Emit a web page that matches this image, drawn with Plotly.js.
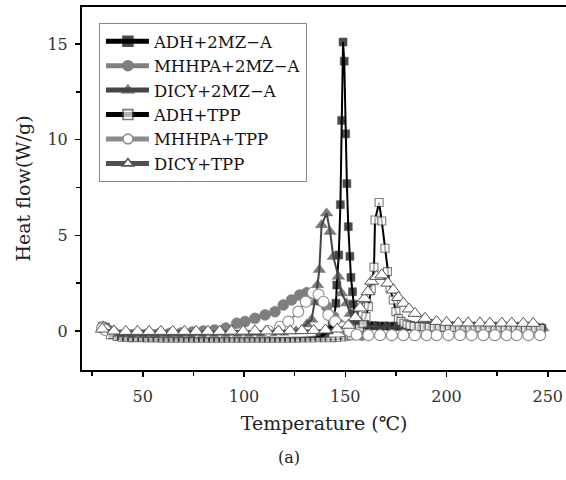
<!DOCTYPE html>
<html>
<head>
<meta charset="utf-8">
<script src="https://cdn.plot.ly/plotly-3.0.1.min.js"></script>
<style>
html,body{margin:0;padding:0;background:#fff;}
#chart{width:566px;height:480px;}
</style>
</head>
<body>
<div id="chart"></div>
<script>
// ---- data (Temperature in °C, Heat flow in W/g) ----
var seriesNames = ["ADH+2MZ−A", "MHHPA+2MZ−A", "DICY+2MZ−A", "ADH+TPP", "MHHPA+TPP", "DICY+TPP"];

var adh2mzT = [30, 31.5, 33, 35, 37.5, 40, 42.5, 45, 47.5, 50, 52.5, 55, 57.5, 60, 62.5, 65, 67.5, 70, 72.5, 75, 77.5, 80, 82.5, 85, 87.5, 90, 92.5, 95, 97.5, 100, 102.5, 105, 107.5, 110, 112.5, 115, 117.5, 120, 122.5, 125, 127.5, 130, 132.5, 135, 137.5, 140, 142, 143.5, 144.5, 145.4, 145.8, 146.8, 147.6, 148.2, 148.9, 149.5, 150.2, 150.8, 151.5, 152.3, 152.8, 153.6, 154, 154.6, 155.5, 157, 159.5, 162, 164.5, 167, 169.5, 172, 174.5, 177, 179.5, 182, 184.5, 187, 189.5, 192, 194.5, 197, 199.5, 202, 204.5, 207, 209.5, 212, 214.5, 217, 219.5, 222, 224.5, 227, 229.5, 232, 234.5, 237, 239.5, 242, 244.5, 247];
var adh2mzH = [0.25, 0.2, 0.05, -0.2, -0.35, -0.4, -0.4, -0.42, -0.42, -0.43, -0.43, -0.43, -0.43, -0.44, -0.44, -0.44, -0.44, -0.44, -0.44, -0.45, -0.45, -0.45, -0.45, -0.45, -0.45, -0.45, -0.45, -0.45, -0.45, -0.45, -0.45, -0.45, -0.45, -0.45, -0.45, -0.45, -0.44, -0.44, -0.44, -0.43, -0.43, -0.42, -0.4, -0.38, -0.3, -0.15, 0.05, 0.3, 0.7, 1.45, 2.4, 3.97, 6.6, 11.0, 15.1, 14.1, 10.3, 7.7, 5.45, 3.9, 2.8, 2.05, 1.4, 0.9, 0.55, 0.35, 0.3, 0.28, 0.27, 0.26, 0.26, 0.25, 0.25, 0.25, 0.24, 0.24, 0.24, 0.23, 0.23, 0.23, 0.22, 0.22, 0.22, 0.22, 0.21, 0.21, 0.21, 0.2, 0.2, 0.2, 0.2, 0.2, 0.19, 0.19, 0.19, 0.19, 0.18, 0.18, 0.18, 0.17, 0.17, 0.15];

var mhhpa2mzT = [30, 32, 36, 41.5, 47, 52.5, 58, 63.5, 69, 74.5, 80, 85.5, 91, 96.4, 100.5, 105.4, 110.4, 115.3, 119.4, 123.5, 127.5, 131, 134.5, 137.5, 140.8, 144.1, 147, 150.5, 154, 158];
var mhhpa2mzH = [0.2, 0.1, -0.1, -0.15, -0.15, -0.15, -0.15, -0.12, -0.1, -0.05, 0.0, 0.05, 0.15, 0.4, 0.49, 0.66, 0.84, 1.01, 1.36, 1.62, 1.88, 2.0, 1.95, 1.6, 1.27, 0.75, 0.35, 0.05, -0.15, -0.22];

var dicy2mzT = [30.5, 32.9, 38.7, 44.5, 50.3, 56.1, 61.9, 67.7, 73.5, 79.3, 85.1, 90.9, 96.7, 102.5, 108.3, 114.1, 119.9, 125.7, 131, 133.4, 135, 136.3, 137.2, 138.3, 140.8, 142.5, 144.1, 146.6, 148.2, 150.7, 152.5, 154.5, 157, 159.6, 164.9, 170.2, 175.5, 180.8, 186.1, 191.4, 197.4, 202.8, 208.3, 213.6, 219, 224.3, 229.7, 235, 240.3, 244.5, 247.6];
var dicy2mzH = [0.25, 0.1, -0.2, -0.2, -0.2, -0.2, -0.2, -0.2, -0.2, -0.2, -0.2, -0.2, -0.19, -0.19, -0.18, -0.16, -0.12, 0.0, 0.35, 0.6, 1.5, 2.4, 3.2, 5.54, 6.15, 5.19, 3.88, 2.84, 1.97, 1.45, 0.9, 0.55, 0.4, 0.28, 0.24, 0.23, 0.23, 0.23, 0.23, 0.23, 0.23, 0.22, 0.22, 0.22, 0.22, 0.22, 0.21, 0.21, 0.21, 0.2, 0.15];

var adhTppT = [30.5, 32, 34, 36.5, 39, 41.5, 44, 46.5, 49, 51.5, 54, 56.5, 59, 61.5, 64, 66.5, 69, 71.5, 74, 76.5, 79, 81.5, 84, 86.5, 89, 91.5, 94, 96.5, 99, 101.5, 104, 106.5, 109, 111.5, 114, 116.5, 119, 121.5, 124, 126.5, 129, 131.5, 134, 136.5, 139, 141.5, 144, 146.5, 149, 151, 153, 155, 157, 158.8, 160.2, 161.4, 162.8, 164.2, 164.7, 166.7, 168, 169.6, 170.8, 172.1, 173.7, 175, 176.2, 177.5, 179, 180.5, 182, 184, 186.5, 189, 191.5, 194, 196.5, 199, 201.5, 204, 206.5, 209, 211.5, 214, 216.5, 219, 221.5, 224, 226.5, 229, 231.5, 234, 236.5, 239, 241.5, 244, 246.5];
var adhTppH = [0.15, 0.05, -0.2, -0.38, -0.42, -0.43, -0.44, -0.45, -0.45, -0.46, -0.46, -0.46, -0.47, -0.47, -0.47, -0.47, -0.47, -0.47, -0.47, -0.47, -0.47, -0.47, -0.47, -0.47, -0.47, -0.47, -0.47, -0.47, -0.47, -0.47, -0.47, -0.47, -0.47, -0.47, -0.47, -0.47, -0.47, -0.47, -0.47, -0.47, -0.46, -0.46, -0.46, -0.45, -0.45, -0.45, -0.44, -0.43, -0.41, -0.36, -0.25, -0.1, 0.15, 0.4, 0.75, 1.27, 2.2, 3.33, 5.8, 6.71, 5.75, 4.32, 3.1, 2.23, 1.62, 1.01, 0.66, 0.5, 0.4, 0.33, 0.28, 0.24, 0.22, 0.21, 0.2, 0.2, 0.19, 0.19, 0.18, 0.18, 0.18, 0.17, 0.17, 0.17, 0.16, 0.16, 0.16, 0.16, 0.15, 0.15, 0.15, 0.15, 0.14, 0.14, 0.14, 0.14, 0.13];

var mhhpaTppT = [30, 31.5, 112, 117.8, 121.9, 126.8, 130.5, 134, 136.8, 139.2, 141.6, 145, 149, 152, 155.6, 161.4, 167.2, 173, 178.7, 184.4, 190.2, 195.1, 200.9, 206.7, 212.4, 218.2, 223.9, 229.7, 234.6, 240.4, 246.2];
var mhhpaTppH = [0.15, 0.05, 0.0, 0.22, 0.49, 1.01, 1.53, 2.0, 1.9, 1.53, 0.84, 0.5, 0.2, 0.0, -0.2, -0.22, -0.22, -0.22, -0.22, -0.22, -0.22, -0.22, -0.22, -0.22, -0.22, -0.22, -0.22, -0.22, -0.22, -0.22, -0.22];

var dicyTppT = [30, 35.8, 41.6, 47.4, 53.2, 59, 64.8, 70.6, 76.4, 82.2, 88, 93.8, 99.6, 105.4, 111.2, 117, 122.8, 128.6, 134.4, 140.2, 146, 151.5, 155, 157.3, 159.5, 161.2, 163, 165.5, 168, 171, 173.7, 176.2, 178.7, 181.5, 184.4, 189.4, 195.1, 200, 205.8, 210.7, 216.5, 221.4, 227.3, 232.2, 237.9, 242.8];
var dicyTppH = [0.1, 0.0, -0.02, -0.02, -0.02, -0.02, -0.02, -0.02, -0.02, -0.02, -0.02, -0.01, -0.01, 0.0, 0.0, 0.0, 0.01, 0.02, 0.03, 0.05, 0.1, 0.3, 0.7, 1.2, 1.7, 2.05, 2.6, 2.85, 2.93, 2.5, 2.14, 1.75, 1.45, 1.15, 0.92, 0.66, 0.5, 0.45, 0.42, 0.42, 0.42, 0.41, 0.41, 0.41, 0.4, 0.4];

var xTickVals = [50, 100, 150, 200, 250];
var yTickVals = [0, 5, 10, 15];

// ---- styling ----
var serif = "DejaVu Serif, Liberation Serif, serif";
function sq(vals){ return vals.map(function(v){ return (v < -0.3) ? 4.5 : 8; }); }
function tri(vals){ return vals.map(function(v){ return (v < -0.1) ? 8 : 11; }); }

var traces = [
  {x: adh2mzT, y: adh2mzH, name: seriesNames[0], mode: "lines+markers",
   line: {color: "#000", width: 2},
   marker: {symbol: "square", size: sq(adh2mzH), color: "#000", line: {color: "#000", width: 0.5}}},
  {x: mhhpa2mzT, y: mhhpa2mzH, name: seriesNames[1], mode: "lines+markers",
   line: {color: "#808080", width: 2},
   marker: {symbol: "circle", size: 11, color: "#7f7f7f", line: {color: "#7f7f7f", width: 0.5}}},
  {x: dicy2mzT, y: dicy2mzH, name: seriesNames[2], mode: "lines+markers",
   line: {color: "#454545", width: 2},
   marker: {symbol: "triangle-up", size: tri(dicy2mzH), color: "#454545", line: {color: "#454545", width: 0.5}}},
  {x: adhTppT, y: adhTppH, name: seriesNames[3], mode: "lines+markers",
   line: {color: "#000", width: 2},
   marker: {symbol: "square", size: sq(adhTppH), color: "#fff", line: {color: "#444", width: 1.1}}},
  {x: mhhpaTppT, y: mhhpaTppH, name: seriesNames[4], mode: "lines+markers",
   line: {color: "#8c8c8c", width: 2},
   marker: {symbol: "circle", size: 11, color: "#fff", line: {color: "#8c8c8c", width: 1.1}}},
  {x: dicyTppT, y: dicyTppH, name: seriesNames[5], mode: "lines+markers",
   line: {color: "#505050", width: 2},
   marker: {symbol: "triangle-up", size: 12, color: "#fff", line: {color: "#555", width: 1}}}
];

var layout = {
  width: 566, height: 480,
  margin: {l: 82, r: 0, t: 7, b: 110},
  paper_bgcolor: "#fff", plot_bgcolor: "#fff",
  font: {family: serif, color: "#222"},
  showlegend: true,
  legend: {
    x: 0.035, y: 0.956, xanchor: "left", yanchor: "top",
    bgcolor: "#fff", bordercolor: "#8a8a8a", borderwidth: 1,
    font: {family: serif, size: 16.5, color: "#111"},
    itemsizing: "constant", itemwidth: 44, tracegroupgap: 0
  },
  xaxis: {
    range: [20, 259], tickvals: xTickVals, ticktext: xTickVals.map(String),
    ticks: "outside", ticklen: 5, tickwidth: 1.5, tickcolor: "#000",
    minor: {dtick: 25, tick0: 0, ticks: "outside", ticklen: 4, tickwidth: 1.5, tickcolor: "#000"},
    showline: true, linecolor: "#000", linewidth: 2, mirror: true,
    showgrid: false, zeroline: false,
    tickfont: {family: serif, size: 16, color: "#333"},
    ticklabelstandoff: 6,
    title: {text: "Temperature (℃)", font: {family: serif, size: 19, color: "#222"}, standoff: 11}
  },
  yaxis: {
    range: [-2.04, 16.93], tickvals: yTickVals, ticktext: yTickVals.map(String),
    ticks: "outside", ticklen: 5, tickwidth: 1.5, tickcolor: "#000",
    minor: {dtick: 2.5, tick0: 0, ticks: "outside", ticklen: 4, tickwidth: 1.5, tickcolor: "#000"},
    showline: true, linecolor: "#000", linewidth: 2, mirror: false,
    showgrid: false, zeroline: false,
    tickfont: {family: serif, size: 16, color: "#333"},
    ticklabelstandoff: 4,
    title: {text: "Heat flow(W/g)", font: {family: serif, size: 19, color: "#222"}, standoff: 12}
  },
  annotations: [
    {text: "(a)", xref: "paper", yref: "paper", x: 0.428, y: -0.242,
     xanchor: "center", yanchor: "middle", showarrow: false,
     font: {family: serif, size: 16, color: "#222"}}
  ]
};

Plotly.newPlot("chart", traces, layout, {staticPlot: true, displayModeBar: false}).then(function(gd){
  // stretch legend sample lines to fill the wider item area and centre the symbols on them
  gd.querySelectorAll(".legend .legendlines path").forEach(function(p){ p.setAttribute("d", "M6,0h43"); });
  gd.querySelectorAll(".legend .legendpoints path").forEach(function(p){ p.setAttribute("transform", "translate(28,0) scale(0.82)"); });
});
</script>
</body>
</html>
